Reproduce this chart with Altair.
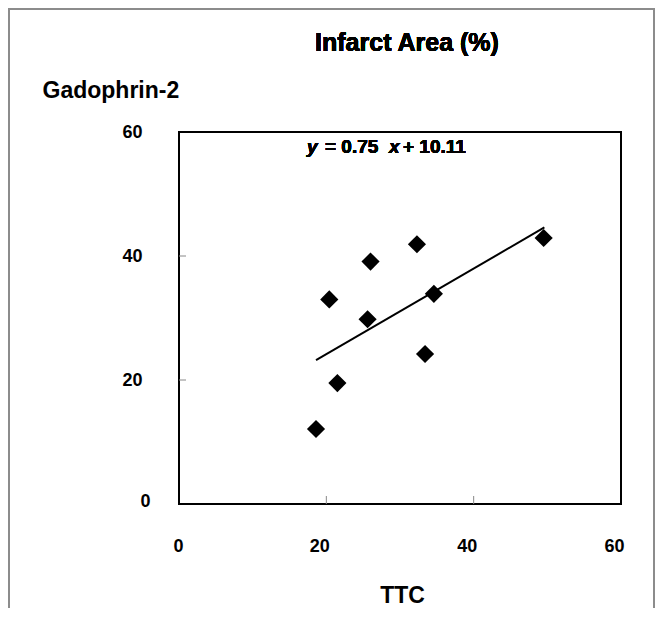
import altair as alt
import pandas as pd

# Data
ttc = [18.6, 20.4, 21.5, 25.6, 26.0, 32.3, 33.4, 34.6, 49.5]
gadophrin = [12.1, 33.0, 19.5, 29.8, 39.1, 41.9, 24.2, 33.9, 42.9]
fit_x = [18.6, 49.6]
fit_y = [23.2, 44.6]
axis_values = [0, 20, 40, 60]
inner_ticks = [20, 40]

FONT = "Liberation Sans"
W, H = 442, 372

pts = pd.DataFrame({"ttc": ttc, "gado": gadophrin})
fit = pd.DataFrame({"ttc": fit_x, "gado": fit_y})
ticks = pd.DataFrame({"v": inner_ticks})

xscale = alt.Scale(domain=[0, 60], nice=False, zero=True)
yscale = alt.Scale(domain=[0, 60], nice=False, zero=True)

xaxis = alt.Axis(values=axis_values, ticks=False, domain=False, grid=False,
                 labelFlush=False,
                 labelFont=FONT, labelFontSize=18, labelFontWeight="bold",
                 labelColor="black", labelPadding=33,
                 labelOffset=alt.condition("datum.value == 0", alt.value(-1), alt.value(-7)),
                 title="TTC", titleFont=FONT, titleFontSize=23,
                 titleFontWeight="bold", titleColor="black",
                 titleX=223, titleY=98, titleAlign="center",
                 titleBaseline="alphabetic", titleAnchor="middle")
yaxis = alt.Axis(values=axis_values, ticks=False, domain=False, grid=False,
                 labelFlush=False,
                 labelFont=FONT, labelFontSize=18, labelFontWeight="bold",
                 labelColor="black",
                 labelPadding=alt.condition("datum.value == 0", alt.value(29), alt.value(37)),
                 labelOffset=alt.condition("datum.value == 0", alt.value(-3), alt.value(0)),
                 title="Gadophrin-2", titleFont=FONT, titleFontSize=23,
                 titleFontWeight="bold", titleColor="black", titleAngle=0,
                 titleX=-137, titleY=-35, titleAlign="left",
                 titleBaseline="alphabetic")

frame = alt.Chart(pts).mark_rect(fill="white", fillOpacity=0, stroke="#8c8c8c",
                                 strokeWidth=2).encode(
    x=alt.value(-170), x2=alt.value(475), y=alt.value(-123), y2=alt.value(560))

points = alt.Chart(pts).mark_point(shape="diamond", filled=True, size=330,
                                   color="black", opacity=1).encode(
    x=alt.X("ttc:Q", scale=xscale, axis=xaxis),
    y=alt.Y("gado:Q", scale=yscale, axis=yaxis))

line = alt.Chart(fit).mark_line(color="black", strokeWidth=2).encode(
    x=alt.X("ttc:Q", scale=xscale), y=alt.Y("gado:Q", scale=yscale))

xt = alt.Chart(ticks).mark_rule(color="#888888", strokeWidth=1).encode(
    x=alt.X("v:Q", scale=xscale), y=alt.value(H), y2=alt.value(H - 8))
yt = alt.Chart(ticks).mark_rule(color="#888888", strokeWidth=1).encode(
    y=alt.Y("v:Q", scale=yscale), x=alt.value(0), x2=alt.value(7))

def label(text, x, y, size, style="normal", align="left"):
    return alt.Chart(pts).mark_text(text=text, font=FONT, fontSize=size,
                                    fontWeight="bold", fontStyle=style,
                                    align=align, baseline="alphabetic",
                                    color="black").encode(
        x=alt.value(x), y=alt.value(y))

title = label("Infarct Area (%)", 228, -81, 25, align="center")
eq1 = label("y", 128, 21, 19, style="italic")
eq2 = label("= 0.75", 146, 21, 19)
eq3 = label("x", 210, 21, 19, style="italic")
eq4 = label("+ 10.11", 224, 21, 19)

chart = alt.layer(frame, xt, yt, line, points, title, eq1, eq2, eq3, eq4).properties(
    width=W, height=H,
    autosize=alt.AutoSizeParams(type="none"),
    padding={"left": 171, "top": 124, "right": 35, "bottom": 104},
    background="white",
).configure_view(stroke="black", strokeWidth=2)

chart.save("out.html", embed_options={"renderer": "svg", "actions": False})
